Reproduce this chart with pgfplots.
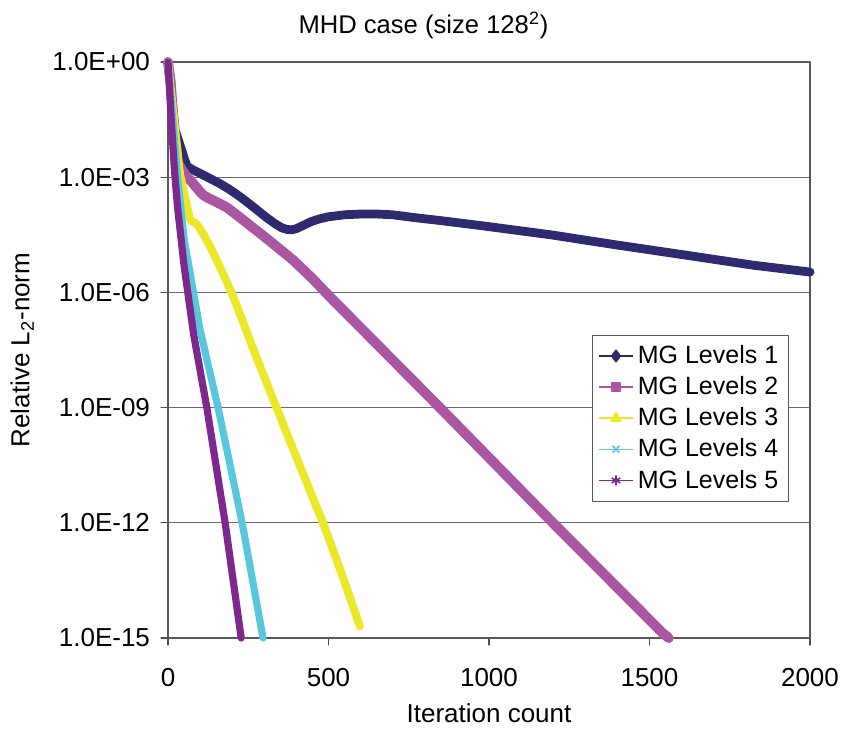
\documentclass[border=0pt]{standalone}
\usepackage{pgfplots}
\pgfplotsset{compat=1.18}
\usepackage{fontspec}
\setmainfont{Liberation Sans}

\definecolor{mgone}{RGB}{46,42,112}
\definecolor{mgtwo}{RGB}{170,86,162}
\definecolor{mgthree}{RGB}{236,232,40}
\definecolor{mgfour}{RGB}{90,200,220}
\definecolor{mgfive}{RGB}{125,40,140}

\begin{document}
\begin{tikzpicture}
\useasboundingbox (-84pt,-46pt) rectangle (338.5pt,319pt);
\begin{axis}[
    scale only axis,
    width=321pt, height=288pt,
    ymode=log,
    xmin=0, xmax=2000,
    ymin=1e-15, ymax=1,
    xtick={0,500,1000,1500,2000},
    xticklabels={\textnormal{0},\textnormal{500},\textnormal{1000},\textnormal{1500},\textnormal{2000}},
    ytick={1,1e-3,1e-6,1e-9,1e-12,1e-15},
    yticklabels={\textnormal{1.0E+00},\textnormal{1.0E-03},\textnormal{1.0E-06},
        \textnormal{1.0E-09},\textnormal{1.0E-12},\textnormal{1.0E-15}},
    yminorticks=false,
    xtick pos=bottom, ytick pos=left,
    tick align=outside,
    major tick length=3.5pt,
    tick style={gray!60!black, line width=0.6pt},
    ymajorgrids,
    major grid style={gray!85!black, line width=0.6pt},
    axis line style={gray!70!black, line width=0.6pt},
    ticklabel style={font=\fontsize{13}{16}\selectfont},
    yticklabel style={anchor=east, xshift=-2pt},
    xticklabel style={anchor=base, yshift=-20.5pt},
    title={MHD case (size 128\textsuperscript{2})},
    title style={at={(axis description cs:0.398,1)}, anchor=base, yshift=8.5pt,
        font=\fontsize{12.8}{15}\selectfont},
    xlabel={Iteration count},
    ylabel={Relative L\textsubscript{2}-norm},
    label style={font=\fontsize{13}{16}\selectfont},
    xlabel style={at={(axis description cs:0.5,0)}, anchor=base, yshift=-42pt},
    ylabel style={at={(axis description cs:-0.227,0.5)}, anchor=center},
    legend style={at={(0.66,0.526)}, anchor=north west, draw=gray!70!black,
        font=\fontsize{12.5}{15}\selectfont, row sep=1pt, inner sep=3pt},
    legend cell align=left,
    clip=false,
    line join=round, line cap=round,
]

% MG Levels 1
\addplot[mgone, line width=4.4pt, forget plot] coordinates {
(0,1) (8,0.251) (15,0.0631) (22,1.70e-2) (31,1e-2) (43,5.01e-3) (52,2.82e-3)
(60,1.91e-3) (78,1.55e-3) (100,1.26e-3) (130,9.33e-4) (160,6.92e-4) (190,4.90e-4)
(220,3.31e-4) (250,2.14e-4) (280,1.35e-4) (310,8.51e-5) (335,6.03e-5) (355,4.79e-5)
(370,4.37e-5) (385,4.27e-5) (400,4.57e-5) (420,5.50e-5) (445,6.92e-5) (470,8.13e-5)
(500,9.33e-5) (550,1.05e-4) (600,1.10e-4) (650,1.10e-4) (700,1.05e-4) (776,8.71e-5)
(850,7.41e-5) (984,5.37e-5) (1193,3.16e-5) (1402,1.70e-5) (1614,9.33e-6)
(1822,5.13e-6) (2000,3.39e-6)
};
% MG Levels 2
\addplot[mgtwo, line width=5pt, forget plot] coordinates {
(0,1) (8,0.316) (15,0.0501) (22,0.01) (31,2.34e-3) (45,1.51e-3) (59,1.02e-3)
(75,7.41e-4) (90,5.25e-4) (100,4.17e-4) (109,3.47e-4) (125,2.88e-4) (150,2.29e-4)
(184,1.62e-4) (220,9.55e-5) (250,6.03e-5) (287,3.47e-5) (330,1.78e-5) (390,6.92e-6)
(450,2.29e-6) (505,7.59e-7) (847,1e-9) (1199,1e-12) (1542,1.32e-15) (1560,1e-15)
};
% MG Levels 3
\addplot[mgthree, line width=4pt, forget plot] coordinates {
(0,1) (10,0.158) (20,0.0251) (37,1.26e-3) (55,2.51e-4) (69,7.76e-5) (80,6.76e-5)
(90,6.03e-5) (110,3.31e-5) (131,1.58e-5) (157,5.62e-6) (184,1.82e-6) (210,5.62e-7)
(234,1.66e-7) (277,1.91e-8) (339,9.55e-10) (410,3.16e-11) (483,1e-12)
(540,5.01e-14) (598,2.0e-15)
};
% MG Levels 4
\addplot[mgfour, line width=3.6pt, forget plot] coordinates {
(0,1) (10,0.1) (20,0.01) (30,1e-3) (50,2.51e-5) (100,1.05e-7) (156,1e-9)
(231,1e-12) (296,1e-15)
};
% MG Levels 5
\addplot[mgfive, line width=3.6pt, forget plot] coordinates {
(0,1) (10,0.0316) (20,1.58e-3) (30,1.58e-4) (50,5.01e-6) (80,7.94e-8) (121,1e-9)
(178,1e-12) (228,1e-15)
};

\addlegendimage{mgone, line width=0.8pt, mark=diamond*, mark size=2.8pt}
\addlegendentry{MG Levels 1}
\addlegendimage{mgtwo, line width=0.8pt, mark=square*, mark size=2.2pt}
\addlegendentry{MG Levels 2}
\addlegendimage{mgthree, line width=0.8pt, mark=triangle*, mark size=2.8pt}
\addlegendentry{MG Levels 3}
\addlegendimage{mgfour, line width=0.8pt, mark=x, mark size=2.5pt}
\addlegendentry{MG Levels 4}
\addlegendimage{mgfive, line width=0.8pt, mark=asterisk, mark size=2.5pt}
\addlegendentry{MG Levels 5}
\end{axis}
\end{tikzpicture}
\end{document}
